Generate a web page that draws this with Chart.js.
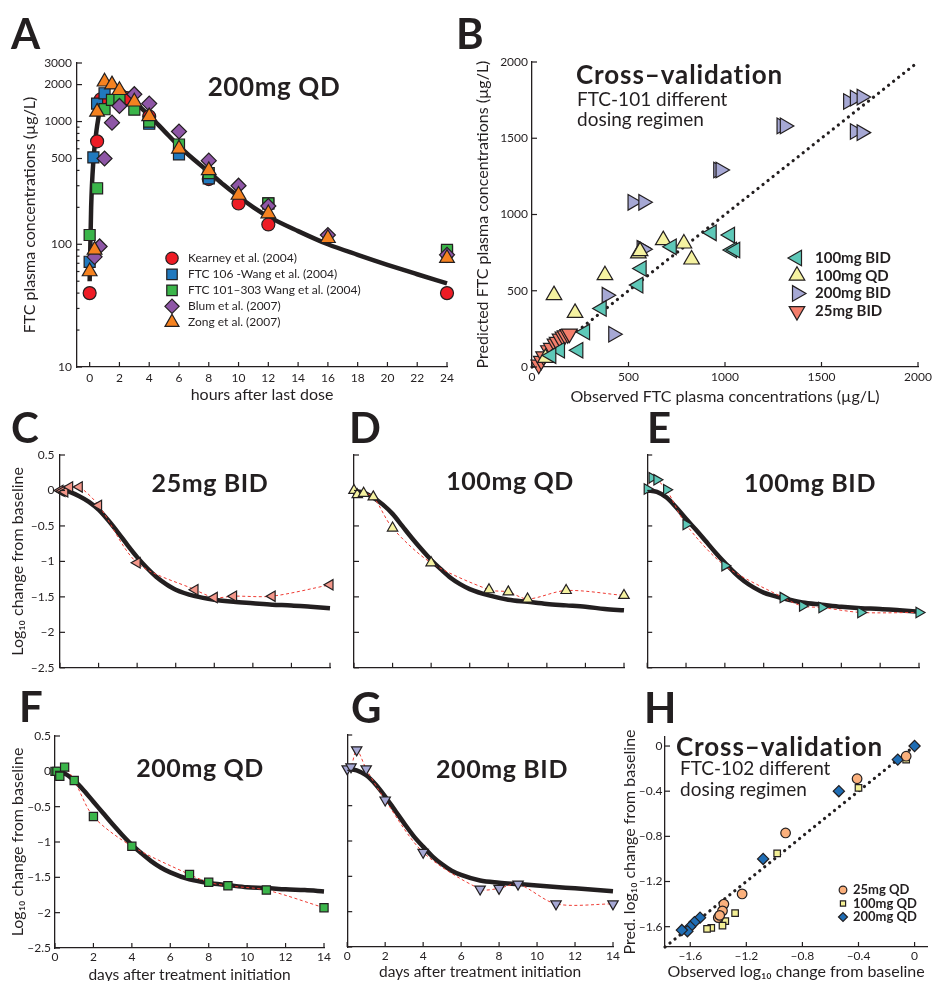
<!DOCTYPE html>
<html>
<head>
<meta charset="utf-8">
<title>FTC plasma concentrations and viral decline</title>
<script src="https://cdn.jsdelivr.net/npm/chart.js@4.4.1/dist/chart.umd.min.js"></script>
<style>
  body { margin: 0; background: #fff; overflow: hidden; }
  #fig { position: relative; width: 934px; height: 981px; font-family: Lato, "DejaVu Sans", sans-serif; color: #231f20; overflow: hidden; }
  #fig canvas { position: absolute; }
  .t { position: absolute; z-index: 2; white-space: nowrap; line-height: 1.2; transform: translateY(-50%); }
  .c { transform: translate(-50%, -50%); }
  .b { font-weight: 700; }
  .h { font-weight: 700; letter-spacing: 0.6px; }
</style>
</head>
<body>
<div id="fig">
  <div class="t b" style="left:11px;top:33px;font-size:42px">A</div>
  <div class="t b" style="left:456px;top:33px;font-size:42px">B</div>
  <div class="t b" style="left:11px;top:427px;font-size:42px">C</div>
  <div class="t b" style="left:349px;top:427px;font-size:42px">D</div>
  <div class="t b" style="left:647px;top:427px;font-size:42px">E</div>
  <div class="t b" style="left:19px;top:706px;font-size:42px">F</div>
  <div class="t b" style="left:351px;top:707px;font-size:42px">G</div>
  <div class="t b" style="left:644px;top:707px;font-size:42px">H</div>

  <div class="t h c" style="left:274px;top:87px;font-size:26px">200mg QD</div>
  <div class="t b" style="left:576px;top:75px;font-size:26px;letter-spacing:0.9px">Cross&ndash;validation</div>
  <div class="t" style="left:577px;top:99px;font-size:19px">FTC-101 different</div>
  <div class="t" style="left:577px;top:119px;font-size:19px">dosing regimen</div>
  <div class="t h c" style="left:210px;top:482px;font-size:25px">25mg BID</div>
  <div class="t h c" style="left:510px;top:480px;font-size:25px">100mg QD</div>
  <div class="t h c" style="left:810px;top:482px;font-size:25px">100mg BID</div>
  <div class="t h c" style="left:200px;top:767px;font-size:25px">200mg QD</div>
  <div class="t h c" style="left:502px;top:768px;font-size:25px">200mg BID</div>
  <div class="t b" style="left:676px;top:747px;font-size:26px;letter-spacing:0.9px">Cross&ndash;validation</div>
  <div class="t" style="left:680px;top:768px;font-size:19px">FTC-102 different</div>
  <div class="t" style="left:680px;top:789px;font-size:19px">dosing regimen</div>
</div>

<script>
const FONT = 'Lato, "DejaVu Sans", sans-serif';
const INK = '#231f20';

// A: FTC plasma concentrations after 200mg QD
const aHourTicks = [0, 2, 4, 6, 8, 10, 12, 14, 16, 18, 20, 22, 24];
const aConcTicks = [10, 20, 30, 40, 50, 60, 70, 80, 90, 100, 200, 300, 400, 500, 600, 700, 800, 900, 1000, 2000, 3000];
const aConcLabels = [10, 100, 500, 1000, 2000, 3000];

const kearneyHours = [0, 0.5, 0.75, 2.5, 4, 8, 10, 12, 24];
const kearneyConc = [40, 690, 1520, 1550, 1100, 340, 215, 145, 40];
const wang106Hours = [0, 0.25, 0.5, 1, 4, 6, 8, 12, 24];
const wang106Conc = [72, 510, 1400, 1700, 960, 540, 345, 215, 87];
const wang101Hours = [0, 0.5, 1, 1.5, 2, 3, 4, 6, 8, 12, 24];
const wang101Conc = [119, 286, 1260, 1500, 1500, 1250, 1000, 650, 380, 215, 90];
const blumHours = [0.33, 0.67, 1, 1.5, 2, 3, 4, 6, 8, 10, 12, 16, 24];
const blumConc = [79, 96, 500, 980, 1340, 1670, 1400, 830, 480, 300, 205, 119, 82];
const zongHours = [0, 0.33, 0.5, 1, 1.5, 2, 3, 4, 6, 8, 10, 12, 16, 24];
const zongConc = [60, 90, 1200, 2110, 2000, 1800, 1450, 1100, 600, 400, 252, 178, 112, 77];
const modelHours = [0, 0.1, 0.25, 0.5, 0.75, 1, 1.25, 1.5, 2, 3, 4, 5, 6, 7, 8, 9, 10, 11, 12, 14, 16, 18, 20, 22, 24];
const modelConc = [50, 200, 480, 920, 1350, 1700, 1880, 1930, 1850, 1450, 1120, 840, 630, 490, 390, 305, 245, 200, 168, 128, 100, 82, 68, 57, 48];

// B: cross-validation FTC-101, observed vs predicted
const bTicks = [0, 500, 1000, 1500, 2000];
const bIdentity = [0, 2000];
const bid100Obs = [931, 1026, 1036, 1053, 724, 568, 551, 361, 275, 240, 145, 100];
const bid100Pred = [880, 865, 767, 767, 788, 646, 537, 384, 230, 110, 110, 75];
const qd100Obs = [680, 787, 827, 551, 378, 114, 223, 70, 560];
const qd100Pred = [832, 810, 705, 745, 602, 471, 355, 60, 760];
const bid200Obs = [1638, 1673, 1708, 1673, 1708, 1293, 1310, 965, 977, 521, 577, 568, 577, 387, 421];
const bid200Pred = [1741, 1763, 1770, 1544, 1537, 1581, 1581, 1292, 1292, 1080, 1080, 778, 772, 471, 215];
const bid25Obs = [35, 48, 60, 85, 100, 119, 130, 145, 160, 171, 185, 194];
const bid25Pred = [15, 40, 70, 110, 125, 153, 165, 186, 200, 208, 215, 219];

// C-G: log10 viral load change per regimen
const dayTicks = [0, 2, 4, 6, 8, 10, 12, 14];
const changeTicks = [0.5, 0, -0.5, -1, -1.5, -2, -2.5];
const modelDays = [0, 0.5, 1, 1.5, 2, 2.5, 3, 3.5, 4, 4.5, 5, 5.5, 6, 7, 8, 9, 10, 11, 12, 13, 14];

const bid25Days = [0, 0.1, 0.25, 0.5, 1, 2, 4, 7, 8, 9, 11, 14];
const bid25Change = [0, -0.01, -0.02, 0.05, 0.05, -0.21, -1.02, -1.40, -1.51, -1.49, -1.49, -1.33];
const bid25Model = [0.02, -0.02, -0.08, -0.16, -0.27, -0.42, -0.59, -0.77, -0.94, -1.09, -1.22, -1.32, -1.40, -1.49, -1.54, -1.57, -1.59, -1.61, -1.62, -1.64, -1.66];

const qd100Days = [0, 0.17, 0.5, 1, 2, 4, 7, 8, 9, 11, 14];
const qd100Change = [0, -0.06, -0.04, -0.09, -0.53, -1.02, -1.40, -1.43, -1.53, -1.41, -1.48];
const qd100Model = [-0.01, -0.03, -0.1, -0.2, -0.33, -0.5, -0.67, -0.83, -0.98, -1.11, -1.23, -1.32, -1.39, -1.48, -1.54, -1.57, -1.60, -1.62, -1.64, -1.67, -1.69];

const bid100Days = [0, 0.25, 0.5, 1, 2, 4, 7, 8, 9, 11, 14];
const bid100Change = [0.02, 0.18, 0.15, 0.01, -0.48, -1.06, -1.51, -1.63, -1.65, -1.72, -1.72];
const bid100Model = [0, -0.02, -0.1, -0.24, -0.40, -0.55, -0.71, -0.87, -1.02, -1.16, -1.28, -1.37, -1.44, -1.52, -1.58, -1.61, -1.64, -1.66, -1.67, -1.69, -1.71];

const qd200Days = [0, 0.1, 0.25, 0.5, 1, 2, 4, 7, 8, 9, 11, 14];
const qd200Change = [0, 0, -0.07, 0.06, -0.13, -0.64, -1.06, -1.46, -1.57, -1.62, -1.68, -1.93];
const qd200Model = [0.01, -0.03, -0.13, -0.27, -0.43, -0.59, -0.75, -0.9, -1.04, -1.16, -1.27, -1.36, -1.43, -1.53, -1.58, -1.61, -1.64, -1.65, -1.67, -1.68, -1.70];

const bid200Days = [0, 0.2, 0.5, 1, 2, 4, 7, 8, 9, 11, 14];
const bid200Change = [0.02, 0.05, 0.29, 0.02, -0.42, -1.16, -1.68, -1.67, -1.61, -1.89, -1.89];
const bid200Model = [0.02, 0, -0.07, -0.2, -0.37, -0.56, -0.75, -0.93, -1.08, -1.22, -1.33, -1.42, -1.48, -1.56, -1.59, -1.61, -1.63, -1.65, -1.67, -1.69, -1.71];

// H: cross-validation FTC-102, observed vs predicted log10 change
const hTicks = [-1.6, -1.2, -0.8, -0.4, 0];
const hIdentity = [-1.78, 0.02];
const hQd25Obs = [-0.06, -0.41, -0.92, -1.23, -1.36, -1.37, -1.40, -1.39];
const hQd25Pred = [-0.09, -0.29, -0.77, -1.31, -1.40, -1.46, -1.52, -1.50];
const hQd100Obs = [-0.06, -0.40, -0.98, -1.28, -1.35, -1.37, -1.45, -1.48];
const hQd100Pred = [-0.12, -0.37, -0.95, -1.48, -1.55, -1.59, -1.61, -1.62];
const hQd200Obs = [0, -0.12, -0.54, -1.08, -1.53, -1.57, -1.60, -1.62, -1.66];
const hQd200Pred = [0, -0.12, -0.40, -1.00, -1.52, -1.56, -1.60, -1.64, -1.63];

function pts(xs, ys) {
  return xs.map((x, i) => ({ x: x, y: ys[i] }));
}

function markers(label, xs, ys, style, color, r, rot, order) {
  return {
    type: 'scatter', label: label, data: pts(xs, ys), clip: false, order: order,
    pointStyle: style, pointRadius: r, pointRotation: rot, pointBackgroundColor: color,
    pointBorderColor: INK, pointBorderWidth: 1.2
  };
}

function curve(xs, ys, order) {
  return { type: 'line', data: pts(xs, ys), clip: false, order: order, borderColor: INK, borderWidth: 4.5,
    pointRadius: 0, cubicInterpolationMode: 'monotone' };
}

function dashed(xs, ys, order) {
  return { type: 'line', data: pts(xs, ys), clip: false, order: order, borderColor: '#ee3b33', borderWidth: 1,
    borderDash: [3, 2.5], pointRadius: 0, tension: 0.3 };
}

function dotted(xs, order) {
  return { type: 'line', data: pts(xs, xs), clip: false, order: order, borderColor: INK, borderWidth: 3.2,
    borderDash: [0.1, 6.3], borderCapStyle: 'round', pointRadius: 0 };
}

// tick labels use an en dash for negatives, as the figure does
function axis(min, max, tickVals, o) {
  return {
    type: o.type || 'linear', min: min, max: max,
    grid: { display: false, drawTicks: false },
    border: { display: true, color: INK, width: 1.3 },
    afterBuildTicks: s => { s.ticks = tickVals.map(v => ({ value: v })); },
    ticks: {
      display: o.labels !== false, autoSkip: false, maxRotation: 0, color: INK, padding: o.pad || 4,
      font: { family: FONT, size: o.fsize || 12 },
      callback: o.fmt || (v => String(v).replace('-', '\u2013'))
    },
    title: o.title
      ? { display: true, text: o.title, color: INK, font: { family: FONT, size: o.tsize || 16 }, padding: { top: o.tpad, bottom: o.tpad } }
      : { display: false }
  };
}

// short tick marks pointing into the plot
const inTicks = {
  id: 'inTicks',
  afterDraw(chart) {
    const ctx = chart.ctx;
    ctx.save();
    ctx.strokeStyle = INK;
    ctx.lineWidth = 1.2;
    ['x', 'y'].forEach(id => {
      const s = chart.scales[id];
      s.ticks.forEach(t => {
        const len = t.label === '' ? 2.5 : 5;
        const p = s.getPixelForValue(t.value);
        ctx.beginPath();
        if (id === 'x') { ctx.moveTo(p, s.top); ctx.lineTo(p, s.top - len); }
        else { ctx.moveTo(s.right, p); ctx.lineTo(s.right + len, p); }
        ctx.stroke();
      });
    });
    ctx.restore();
  }
};

// legend drawn inside the plot area from the datasets' own marker styles
const markerKey = {
  id: 'markerKey',
  afterDatasetsDraw(chart, args, opts) {
    if (!opts.rows) return;
    const ctx = chart.ctx;
    const ox = parseFloat(chart.canvas.style.left);
    const oy = parseFloat(chart.canvas.style.top);
    ctx.save();
    opts.rows.forEach((k, i) => {
      const ds = chart.data.datasets[k];
      const y = opts.y + i * opts.dy - oy;
      ctx.fillStyle = ds.pointBackgroundColor;
      ctx.strokeStyle = ds.pointBorderColor;
      ctx.lineWidth = ds.pointBorderWidth;
      Chart.helpers.drawPoint(ctx, { pointStyle: ds.pointStyle, rotation: ds.pointRotation,
        radius: ds.pointRadius * (opts.scale || 1), borderWidth: ds.pointBorderWidth }, opts.x - ox, y);
      ctx.fillStyle = INK;
      ctx.font = opts.font;
      ctx.textAlign = 'left';
      ctx.textBaseline = 'middle';
      ctx.fillText(ds.label, opts.tx - ox, y);
    });
    ctx.restore();
  }
};

function makePanel(box, area, xAxis, yAxis, datasets, key) {
  const canvas = document.createElement('canvas');
  canvas.width = box.w;
  canvas.height = box.h;
  canvas.style.left = box.x + 'px';
  canvas.style.top = box.y + 'px';
  document.getElementById('fig').appendChild(canvas);

  const yWidth = area.l - box.x;
  const xHeight = box.y + box.h - area.b;
  xAxis.afterFit = s => { s.height = xHeight; s.paddingLeft = 0; s.paddingRight = 0; };
  yAxis.afterFit = s => { s.width = yWidth; s.paddingTop = 0; s.paddingBottom = 0; };

  return new Chart(canvas, {
    type: 'scatter',
    data: { datasets: datasets },
    options: {
      responsive: false,
      animation: false,
      events: [],
      layout: { padding: { left: 0, top: area.t - box.y, right: box.x + box.w - area.r, bottom: 0 } },
      scales: { x: xAxis, y: yAxis },
      plugins: { legend: { display: false }, tooltip: { enabled: false }, markerKey: key || {} }
    },
    plugins: [inTicks, markerKey]
  });
}

// A
makePanel({ x: 0, y: 50, w: 460, h: 360 }, { l: 77, t: 63, r: 447, b: 367 },
  axis(-0.85, 24, aHourTicks, { pad: 4, title: 'hours after last dose', tpad: 5.4 }),
  axis(10, 3000, aConcTicks, { type: 'logarithmic', pad: 5, fmt: v => aConcLabels.includes(v) ? String(v) : '',
    title: 'FTC plasma concentrations (\u00b5g/L)', tpad: 20.4 }),
  [
    markers('Kearney et al. (2004)', kearneyHours, kearneyConc, 'circle', '#ee1c25', 6.5, 0, 4),
    markers('FTC 106 -Wang et al. (2004)', wang106Hours, wang106Conc, 'rect', '#2179be', 7.8, 0, 3),
    markers('FTC 101\u2013303 Wang et al. (2004)', wang101Hours, wang101Conc, 'rect', '#3bb54a', 7.8, 0, 2),
    markers('Blum et al. (2007)', blumHours, blumConc, 'rectRot', '#8e56a6', 7.5, 0, 1),
    markers('Zong et al. (2007)', zongHours, zongConc, 'triangle', '#f58220', 8.5, 0, 0),
    curve(modelHours, modelConc, 5)
  ],
  { rows: [0, 1, 2, 3, 4], x: 172, tx: 188, y: 258.3, dy: 16, scale: 0.95, font: '12px ' + FONT });

// B
makePanel({ x: 460, y: 50, w: 474, h: 360 }, { l: 532, t: 62, r: 918, b: 367 },
  axis(0, 2000, bTicks, { pad: 2.5, title: 'Observed FTC plasma concentrations (\u00b5g/L)', tpad: 3.4 }),
  axis(0, 2000, bTicks, { pad: 4, title: 'Predicted FTC plasma concentrations (\u00b5g/L)', tpad: 13.4 }),
  [
    markers('100mg BID', bid100Obs, bid100Pred, 'triangle', '#5ec8b8', 9, -90, 0),
    markers('100mg QD', qd100Obs, qd100Pred, 'triangle', '#f5f2a1', 9, 0, 1),
    markers('200mg BID', bid200Obs, bid200Pred, 'triangle', '#a6a8d4', 9, 90, 2),
    markers('25mg BID', bid25Obs, bid25Pred, 'triangle', '#f37e6b', 9, 180, 3),
    dotted(bIdentity, 4)
  ],
  { rows: [0, 1, 2, 3], x: 797, tx: 815, y: 258, dy: 17.7, font: 'bold 15px ' + FONT });

// C - G
const changeTitle = 'Log\u2081\u2080 change from baseline';
const daysTitle = 'days after treatment initiation';

makePanel({ x: 0, y: 440, w: 340, h: 235 }, { l: 60, t: 455, r: 330, b: 668 },
  axis(0, 14, dayTicks, { labels: false }),
  axis(-2.5, 0.5, changeTicks, { pad: 5.5, title: changeTitle, tpad: 8.4 }),
  [
    markers('25mg BID', bid25Days, bid25Change, 'triangle', '#f4978a', 6, -90, 0),
    dashed(bid25Days, bid25Change, 1),
    curve(modelDays, bid25Model, 2)
  ]);

makePanel({ x: 340, y: 440, w: 300, h: 235 }, { l: 354, t: 455, r: 624, b: 668 },
  axis(0, 14, dayTicks, { labels: false }),
  axis(-2.5, 0.5, changeTicks, { labels: false }),
  [
    markers('100mg QD', qd100Days, qd100Change, 'triangle', '#f5f2a1', 6, 0, 0),
    dashed(qd100Days, qd100Change, 1),
    curve(modelDays, qd100Model, 2)
  ]);

makePanel({ x: 640, y: 440, w: 294, h: 235 }, { l: 647, t: 455, r: 919, b: 668 },
  axis(0, 14, dayTicks, { labels: false }),
  axis(-2.5, 0.5, changeTicks, { labels: false }),
  [
    markers('100mg BID', bid100Days, bid100Change, 'triangle', '#5ec8b8', 6, 90, 0),
    dashed(bid100Days, bid100Change, 1),
    curve(modelDays, bid100Model, 2)
  ]);

makePanel({ x: 0, y: 720, w: 340, h: 271 }, { l: 55, t: 736, r: 324, b: 948 },
  axis(0, 14, dayTicks, { pad: 2, title: daysTitle, tsize: 15.5, tpad: 6.7 }),
  axis(-2.5, 0.5, changeTicks, { pad: 4, title: changeTitle, tpad: 8.7 }),
  [
    markers('200mg QD', qd200Days, qd200Change, 'rect', '#3bb54a', 5.8, 0, 0),
    dashed(qd200Days, qd200Change, 1),
    curve(modelDays, qd200Model, 2)
  ]);

makePanel({ x: 340, y: 720, w: 290, h: 271 }, { l: 342, t: 735, r: 613, b: 947 },
  axis(0, 14, dayTicks, { pad: 2, title: daysTitle, tsize: 15.5, tpad: 9.4 }),
  axis(-2.5, 0.5, changeTicks, { labels: false }),
  [
    markers('200mg BID', bid200Days, bid200Change, 'triangle', '#a6a8d4', 6, 180, 0),
    dashed(bid200Days, bid200Change, 1),
    curve(modelDays, bid200Model, 2)
  ]);

// H
makePanel({ x: 612, y: 720, w: 322, h: 271 }, { l: 665, t: 737, r: 933, b: 947 },
  axis(-1.78, 0.09, hTicks, { pad: 2, title: 'Observed log\u2081\u2080 change from baseline', tpad: 9.7 }),
  axis(-1.78, 0.08, hTicks, { pad: 2.5, title: 'Pred. log\u2081\u2080 change from baseline', tpad: 8.6 }),
  [
    markers('25mg QD', hQd25Obs, hQd25Pred, 'circle', '#fbb07c', 4.8, 0, 0),
    markers('100mg QD', hQd100Obs, hQd100Pred, 'rect', '#f3ef95', 4.6, 0, 1),
    markers('200mg QD', hQd200Obs, hQd200Pred, 'rectRot', '#1f6db4', 5.6, 0, 2),
    dotted(hIdentity, 3)
  ],
  { rows: [0, 1, 2], x: 843, tx: 853, y: 890, dy: 13.5, scale: 0.8, font: 'bold 13px ' + FONT });
</script>
</body>
</html>
